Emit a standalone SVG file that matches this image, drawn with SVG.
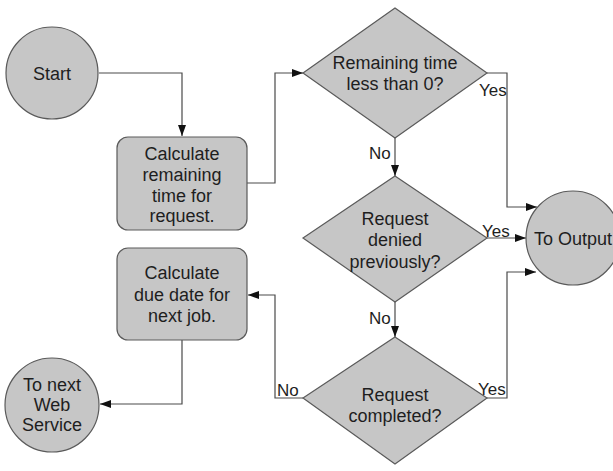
<svg xmlns="http://www.w3.org/2000/svg" width="613" height="471" viewBox="0 0 613 471">
<style>
.shape{fill:#c6c6c6;stroke:#5a5a5a;stroke-width:1.2}
.t{font-family:"Liberation Sans",Arial,sans-serif;font-size:18px;fill:#1e1e1e;text-anchor:middle}
.lbl{font-family:"Liberation Sans",Arial,sans-serif;font-size:17px;fill:#1e1e1e}
.c{fill:none;stroke:#4a4a4a;stroke-width:1.2}
</style>
<defs>
<marker id="ah" markerUnits="userSpaceOnUse" markerWidth="12" markerHeight="8" refX="11" refY="4" orient="auto">
<path d="M0,0 L11,4 L0,8 z" fill="#111"/>
</marker>
</defs>
<rect width="613" height="471" fill="#ffffff"/>
<g id="connectors">
<path class="c" d="M99,73 H182 V136" marker-end="url(#ah)"/>
<path class="c" d="M247,183 H275 V73 H303" marker-end="url(#ah)"/>
<path class="c" d="M487,73 H507 V207 H537" marker-end="url(#ah)"/>
<path class="c" d="M395,138 V176" marker-end="url(#ah)"/>
<path class="c" d="M487,238 H526" marker-end="url(#ah)"/>
<path class="c" d="M395,302 V337" marker-end="url(#ah)"/>
<path class="c" d="M487,398 H507 V272 H536" marker-end="url(#ah)"/>
<path class="c" d="M303,398 H275 V295 H248" marker-end="url(#ah)"/>
<path class="c" d="M182,340 V404 H100" marker-end="url(#ah)"/>
<text class="lbl" x="479" y="96">Yes</text>
<text class="lbl" x="369" y="159">No</text>
<text class="lbl" x="482" y="237">Yes</text>
<text class="lbl" x="369" y="324">No</text>
<text class="lbl" x="478" y="395">Yes</text>
<text class="lbl" x="277" y="396">No</text>
</g>
<g id="start">
<circle class="shape" cx="52" cy="73" r="46"/>
<text class="t" x="52" y="79.5">Start</text>
</g>
<g id="calc-remaining">
<rect class="shape" x="117" y="137" width="130" height="93" rx="11"/>
<text class="t" x="182" y="160">Calculate</text>
<text class="t" x="182" y="181">remaining</text>
<text class="t" x="182" y="202">time for</text>
<text class="t" x="182" y="222">request.</text>
</g>
<g id="decision-time">
<polygon class="shape" points="395,8 487,73 395,138 303,73"/>
<text class="t" x="395" y="69">Remaining time</text>
<text class="t" x="395" y="90">less than 0?</text>
</g>
<g id="decision-denied">
<polygon class="shape" points="395,176 487,238 395,302 303,238"/>
<text class="t" x="395" y="225">Request</text>
<text class="t" x="395" y="246">denied</text>
<text class="t" x="395" y="268">previously?</text>
</g>
<g id="decision-completed">
<polygon class="shape" points="395,337 487,398 395,464 303,398"/>
<text class="t" x="395" y="401">Request</text>
<text class="t" x="395" y="422">completed?</text>
</g>
<g id="to-output">
<circle class="shape" cx="573" cy="238" r="47"/>
<text class="t" x="573" y="244.5">To Output</text>
</g>
<g id="calc-due">
<rect class="shape" x="117" y="248" width="130" height="92" rx="11"/>
<text class="t" x="182" y="279">Calculate</text>
<text class="t" x="182" y="301">due date for</text>
<text class="t" x="182" y="322">next job.</text>
</g>
<g id="to-next">
<circle class="shape" cx="52" cy="405" r="47"/>
<text class="t" x="52" y="391">To next</text>
<text class="t" x="52" y="411">Web</text>
<text class="t" x="52" y="431">Service</text>
</g>
</svg>
